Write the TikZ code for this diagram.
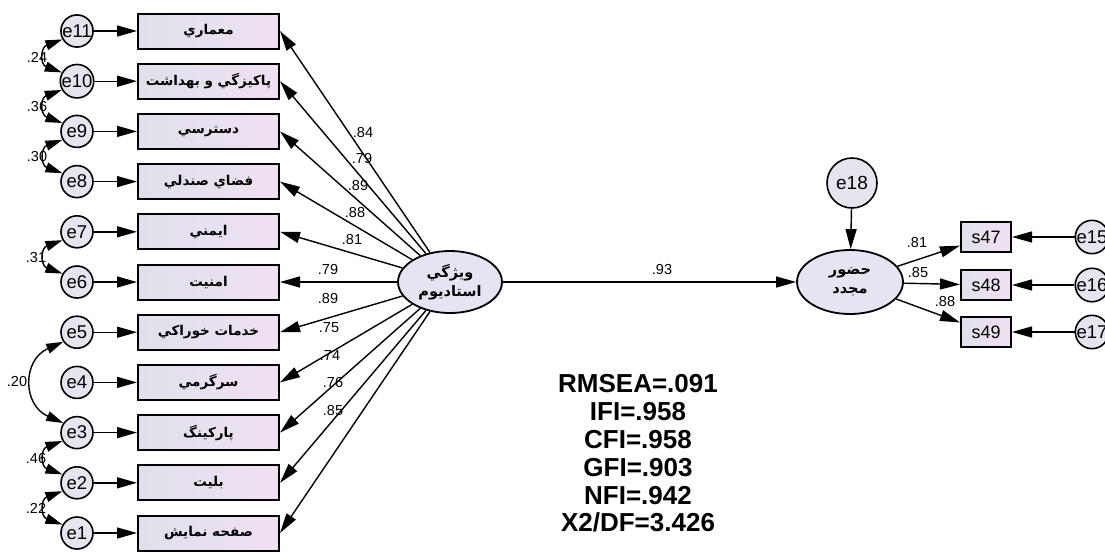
\documentclass[tikz,border=0pt]{standalone}
\usepackage{fontspec}
\setmainfont{Liberation Sans}
\newfontfamily\fa[Script=Arabic]{DejaVu Sans}
\TeXXeTstate=1
\usetikzlibrary{arrows.meta,shapes.geometric}
\definecolor{circfill}{HTML}{E6E4EE}
\definecolor{boxl}{HTML}{E0E0EA}
\definecolor{boxr}{HTML}{F0E0F2}
\definecolor{ellfill}{HTML}{E8E3F3}
\begin{document}
\begin{tikzpicture}[x=1pt,y=-1pt,
  errc/.style={circle,draw,line width=1.6pt,fill=circfill,minimum size=32pt,inner sep=0pt,font=\fontsize{18.5}{20}\selectfont},
  obsbox/.style={rectangle,draw,line width=2pt,left color=boxl,right color=boxr,minimum width=141pt,minimum height=35pt,inner sep=0pt,font=\fa\bfseries\fontsize{13.5}{15}\selectfont},
  sbox/.style={rectangle,draw,line width=2pt,left color=boxl,right color=boxr,minimum width=50pt,minimum height=30pt,inner sep=0pt,font=\fontsize{18}{20}\selectfont},
  latent/.style={ellipse,draw,line width=1.8pt,fill=ellfill,minimum width=104pt,minimum height=62pt,inner sep=0pt,align=center,font=\fa\bfseries\fontsize{14.5}{19}\selectfont},
  arr/.style={-{Triangle[length=20pt,width=11pt]},line width=1.4pt},
  cov/.style={{Triangle[length=17pt,width=10pt]}-{Triangle[length=17pt,width=10pt]},line width=1.4pt},
  lab/.style={inner sep=0pt,font=\fontsize{14.5}{16}\selectfont}]
\useasboundingbox[fill=white] (0,0) rectangle (1105,552);

% error terms
\node[errc] (e11) at (77,31) {e11};
\node[errc] (e10) at (77,81.2) {e10};
\node[errc] (e9) at (77,131.4) {e9};
\node[errc] (e8) at (77,181.6) {e8};
\node[errc] (e7) at (77,231.8) {e7};
\node[errc] (e6) at (77,282) {e6};
\node[errc] (e5) at (77,332.2) {e5};
\node[errc] (e4) at (77,382.4) {e4};
\node[errc] (e3) at (77,432.6) {e3};
\node[errc] (e2) at (77,482.8) {e2};
\node[errc] (e1) at (77,533) {e1};

% observed boxes
\node[obsbox] (b11) at (208.5,31) {\beginR معماري\endR};
\node[obsbox] (b10) at (208.5,81.2) {\beginR پاكيزگي و بهداشت\endR};
\node[obsbox] (b9) at (208.5,131.4) {\beginR دسترسي\endR};
\node[obsbox] (b8) at (208.5,181.6) {\beginR فضاي صندلي\endR};
\node[obsbox] (b7) at (208.5,231.8) {\beginR ايمني\endR};
\node[obsbox] (b6) at (208.5,282) {\beginR امنيت\endR};
\node[obsbox] (b5) at (208.5,332.2) {\beginR خدمات خوراكي\endR};
\node[obsbox] (b4) at (208.5,382.4) {\beginR سرگرمي\endR};
\node[obsbox] (b3) at (208.5,432.6) {\beginR پاركينگ\endR};
\node[obsbox] (b2) at (208.5,482.8) {\beginR بليت\endR};
\node[obsbox] (b1) at (208.5,533) {\beginR صفحه نمايش\endR};

\foreach \i in {1,...,11} { \draw[arr] (e\i) -- (b\i); }

% latent variables
\node[latent] (F) at (450,282) {\beginR ويژگي\endR\\\beginR استاديوم\endR};
\node[latent,minimum width=106pt,minimum height=64pt] (R) at (850,282) {\beginR حضور\endR\\\beginR مجدد\endR};
\node[errc,minimum size=50pt,font=\fontsize{19}{21}\selectfont] (e18) at (852,183) {e18};

\foreach \i in {1,...,11} { \draw[arr] (F) -- (b\i.east); }
\draw[arr] (F) -- (R);
\draw[arr] (e18) -- (R);

% right indicators
\node[sbox] (s47) at (986,237) {s47};
\node[sbox] (s48) at (986,285) {s48};
\node[sbox] (s49) at (986,332) {s49};
\node[errc,minimum size=30pt] (e15) at (1092,237) {e15};
\node[errc,minimum size=30pt] (e16) at (1092,285) {e16};
\node[errc,minimum size=30pt] (e17) at (1092,332) {e17};
\draw[arr] (R) -- (s47);
\draw[arr] (R) -- (s48);
\draw[arr] (R) -- (s49);
\draw[arr] (e15) -- (s47);
\draw[arr] (e16) -- (s48);
\draw[arr] (e17) -- (s49);

% covariances
\draw[cov] (e11.210) .. controls +(-22,8) and +(-22,-8) .. (e10.150);
\draw[cov] (e10.210) .. controls +(-22,8) and +(-22,-8) .. (e9.150);
\draw[cov] (e9.210) .. controls +(-22,8) and +(-22,-8) .. (e8.150);
\draw[cov] (e7.210) .. controls +(-22,8) and +(-22,-8) .. (e6.150);
\draw[cov] (e5.215) .. controls +(-41,18) and +(-41,-18) .. (e3.145);
\draw[cov] (e3.210) .. controls +(-22,8) and +(-22,-8) .. (e2.150);
\draw[cov] (e2.210) .. controls +(-22,8) and +(-22,-8) .. (e1.150);

% covariance labels
\node[lab] (c1) at (37,57) {.24};
\node[lab] (c2) at (37,107) {.36};
\node[lab] (c3) at (37,157) {.30};
\node[lab] (c4) at (36,258) {.31};
\node[lab] (c5) at (17,382) {.20};
\node[lab] (c6) at (36,458) {.46};
\node[lab] (c7) at (36,508) {.22};

% loading labels
\node[lab] (l11) at (363,133) {.84};
\node[lab] (l10) at (362,159) {.79};
\node[lab] (l9) at (358,186) {.89};
\node[lab] (l8) at (355,213) {.88};
\node[lab] (l7) at (352,240) {.81};
\node[lab] (l6) at (328,270) {.79};
\node[lab] (l5) at (328,299) {.89};
\node[lab] (l4) at (329,328) {.75};
\node[lab] (l3) at (330,356) {.74};
\node[lab] (l2) at (333,383) {.76};
\node[lab] (l1) at (333,411) {.85};
\node[lab] (lm) at (662,270) {.93};
\node[lab] (r1) at (917,243) {.81};
\node[lab] (r2) at (918,273) {.85};
\node[lab] (r3) at (945,302) {.88};

% fit statistics
\node[align=center,inner sep=0pt,font=\bfseries\fontsize{26}{27.8}\selectfont] (fit) at (638,453.5)
  {RMSEA=.091\\IFI=.958\\CFI=.958\\GFI=.903\\NFI=.942\\X2/DF=3.426};
\end{tikzpicture}
\end{document}
